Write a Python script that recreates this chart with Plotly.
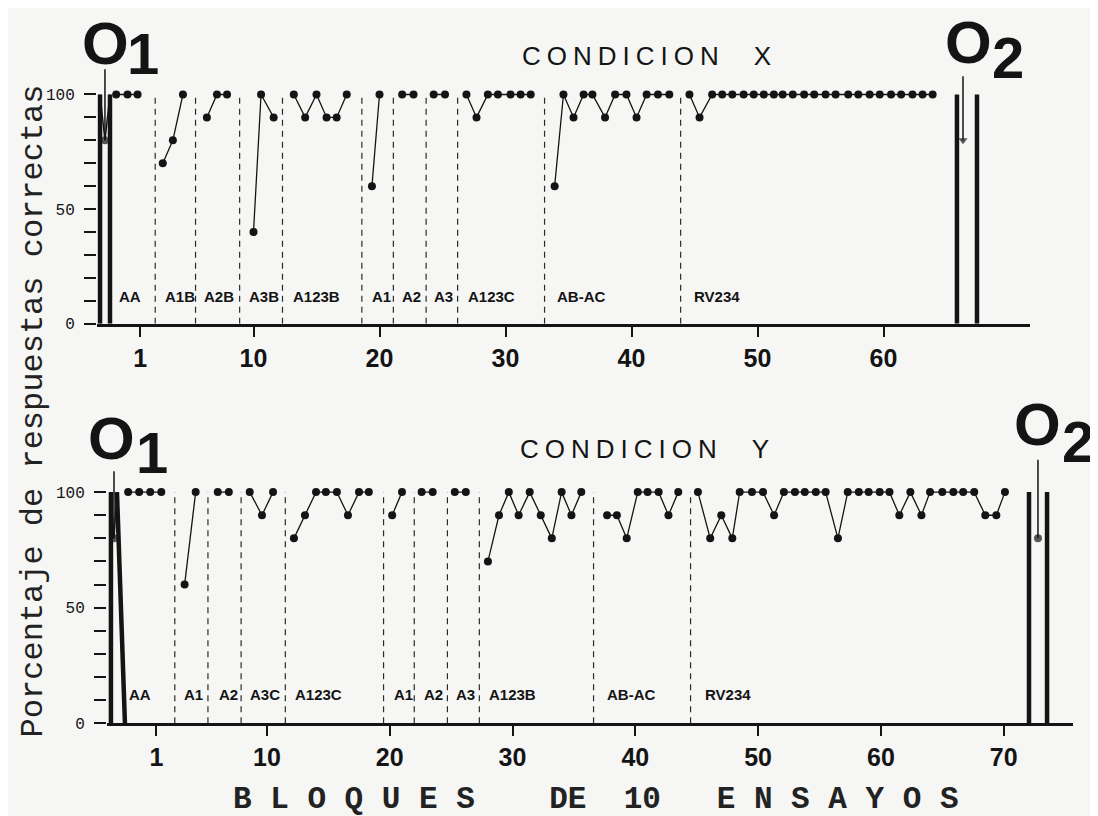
import plotly.graph_objects as go

# ---------------- DATA ----------------
# Condición X (upper panel)
phases_top = ["AA", "A1B", "A2B", "A3B", "A123B", "A1", "A2", "A3", "A123C", "AB-AC", "RV234"]
blocks_top = [
    [-0.9, 0.0, 0.8],
    [2.8, 3.6, 4.4],
    [6.3, 7.1, 7.9],
    [10.0, 10.6, 11.6],
    [13.2, 14.1, 15.0, 15.8, 16.6, 17.4],
    [19.4, 20.0],
    [21.8, 22.7],
    [24.3, 25.2],
    [26.9, 27.7, 28.6, 29.4, 30.4, 31.2, 32.0],
    [33.9, 34.6, 35.4, 36.2, 36.9, 37.9, 38.7, 39.6, 40.4, 41.2, 42.1, 43.0],
    [44.6, 45.4, 46.4, 47.2, 48.0, 48.9, 49.7, 50.5, 51.3, 52.0, 52.8, 53.7,
     54.5, 55.4, 56.2, 57.2, 58.0, 58.9, 59.7, 60.6, 61.4, 62.3, 63.1, 63.9],
]
pct_top = [
    [100, 100, 100],
    [70, 80, 100],
    [90, 100, 100],
    [40, 100, 90],
    [100, 90, 100, 90, 90, 100],
    [60, 100],
    [100, 100],
    [100, 100],
    [100, 90, 100, 100, 100, 100, 100],
    [60, 100, 90, 100, 100, 90, 100, 100, 90, 100, 100, 100],
    [100, 90, 100, 100, 100, 100, 100, 100, 100, 100, 100, 100,
     100, 100, 100, 100, 100, 100, 100, 100, 100, 100, 100, 100],
]
bounds_top = [2.2, 5.4, 8.9, 12.3, 18.6, 21.1, 23.7, 26.2, 33.1, 43.9]
label_x_top = [-0.8, 2.8, 5.9, 9.5, 13.0, 19.25, 21.6, 24.2, 26.9, 33.9, 44.8]
ticks_top = [1, 10, 20, 30, 40, 50, 60]

# Condición Y (lower panel)
phases_bot = ["AA", "A1", "A2", "A3C", "A123C", "A1", "A2", "A3", "A123B", "AB-AC", "RV234"]
blocks_bot = [
    [-1.3, -0.4, 0.5, 1.4],
    [3.3, 4.2],
    [6.0, 6.9],
    [8.6, 9.6, 10.5],
    [12.2, 13.1, 14.0, 14.8, 15.7, 16.6, 17.5, 18.3],
    [20.2, 21.0],
    [22.6, 23.5],
    [25.3, 26.2],
    [28.0, 28.9, 29.7, 30.5, 31.4, 32.3, 33.2, 34.0, 34.8, 35.6],
    [37.7, 38.5, 39.3, 40.2, 41.0, 41.9, 42.7, 43.5],
    [45.1, 46.1, 47.0, 47.9, 48.5, 49.5, 50.4, 51.3, 52.1, 53.0, 53.8, 54.7, 55.5, 56.5, 57.3,
     58.2, 59.0, 59.9, 60.7, 61.5, 62.4, 63.3, 64.0, 65.0, 65.9, 66.7, 67.6, 68.5, 69.4, 70.1],
]
pct_bot = [
    [100, 100, 100, 100],
    [60, 100],
    [100, 100],
    [100, 90, 100],
    [80, 90, 100, 100, 100, 90, 100, 100],
    [90, 100],
    [100, 100],
    [100, 100],
    [70, 90, 100, 90, 100, 90, 80, 100, 90, 100],
    [90, 90, 80, 100, 100, 100, 90, 100],
    [100, 80, 90, 80, 100, 100, 100, 90, 100, 100, 100, 100, 100, 80, 100,
     100, 100, 100, 100, 90, 100, 90, 100, 100, 100, 100, 100, 90, 90, 100],
]
bounds_bot = [2.5, 5.2, 7.9, 11.5, 19.5, 22.0, 24.7, 27.3, 36.6, 44.5]
label_x_bot = [-1.4, 3.1, 5.9, 8.5, 12.1, 20.2, 22.6, 25.2, 27.9, 37.5, 45.5]
ticks_bot = [1, 10, 20, 30, 40, 50, 60, 70]

# Probe markers O1 / O2: bars (bottom x, top x), probe point x, probe %, pointer top
probe_top_left_bar = [(-2.18, -2.18), (65.83, 65.83)]
probe_top_right_bar = [(-1.39, -1.39), (67.42, 67.42)]
probe_top_point_x = [-1.79, 66.31]
probe_top_pct = [80, 80]
probe_top_pointer = [111, 108]

probe_bot_left_bar = [(-2.70, -2.70), (72.06, 72.06)]
probe_bot_right_bar = [(-1.56, -2.21), (73.53, 73.53)]
probe_bot_point_x = [-2.45, 72.79]
probe_bot_pct = [80, 80]
probe_bot_pointer = [109, 114]

yticks = [0, 10, 20, 30, 40, 50, 60, 70, 80, 90, 100]
ytick_text = ["0", "", "", "", "", "50", "", "", "", "", "100"]

# ---------------- FIGURE ----------------
W, H = 1098, 816
OFFX = 8      # page body margin (horizontal)
OFFY, SY = 7.2, 0.990  # measured vertical placement on the page
INK = "#141414"
BG = "#f6f6f4"


def fx(px):
    return (px - OFFX) / W


def fy(py):
    return 1 - ((py - OFFY) / SY) / H


fig = go.Figure()


def add_panel(xa, ya, blocks, pcts, bounds, names, label_x, label_y,
              lbar, rbar, px_, ppct, ptop, arrow_second):
    for xs, ys in zip(blocks, pcts):
        fig.add_trace(go.Scatter(
            x=xs, y=ys, xaxis=xa, yaxis=ya, mode="lines+markers",
            line=dict(color=INK, width=1.3), marker=dict(color=INK, size=8),
            showlegend=False, hoverinfo="skip", cliponaxis=False))
    for b in bounds:
        fig.add_shape(type="line", xref=xa, yref=ya, x0=b, x1=b, y0=0, y1=100,
                      line=dict(color="#2a2a2a", width=1.2, dash="6px,5px"))
    for n, lx in zip(names, label_x):
        fig.add_annotation(xref=xa, yref=ya, x=lx, y=label_y, text=n,
                           showarrow=False, xanchor="left", yanchor="middle",
                           font=dict(family="Liberation Sans", size=15, color=INK,
                                     weight="bold"))
    # probe markers
    for i in range(2):
        lb, rb = lbar[i], rbar[i]
        fig.add_trace(go.Scatter(
            x=[lb[0], lb[1], None, rb[0], rb[1]], y=[0, 100, None, 0, 100],
            xaxis=xa, yaxis=ya, mode="lines", line=dict(color=INK, width=4.5),
            showlegend=False, hoverinfo="skip"))
        if i == 0:
            fig.add_trace(go.Scatter(
                x=[lb[1], px_[i], rb[1]], y=[100, ppct[i], 100],
                xaxis=xa, yaxis=ya, mode="lines", line=dict(color=INK, width=1.5),
                showlegend=False, hoverinfo="skip"))
        sym = "triangle-down" if (i == 1 and arrow_second) else "circle"
        fig.add_trace(go.Scatter(
            x=[px_[i], px_[i]], y=[ptop[i], ppct[i]],
            xaxis=xa, yaxis=ya, mode="lines+markers",
            line=dict(color=INK, width=1.5),
            marker=dict(color=INK, size=[0, 8], symbol=sym,
                        line=dict(width=0)),
            showlegend=False, hoverinfo="skip", cliponaxis=False))


add_panel("x", "y", blocks_top, pct_top, bounds_top, phases_top, label_x_top, 11.7,
          probe_top_left_bar, probe_top_right_bar, probe_top_point_x, probe_top_pct,
          probe_top_pointer, True)
add_panel("x2", "y2", blocks_bot, pct_bot, bounds_bot, phases_bot, label_x_bot, 12.5,
          probe_bot_left_bar, probe_bot_right_bar, probe_bot_point_x, probe_bot_pct,
          probe_bot_pointer, False)

xaxis_common = dict(showgrid=False, zeroline=False, showline=True, linewidth=3,
                    linecolor=INK, ticks="outside", ticklen=10, tickwidth=2,
                    tickcolor=INK,
                    tickfont=dict(family="Liberation Sans", size=25, color=INK, weight="bold"))
yaxis_common = dict(showgrid=False, zeroline=False, showline=False, ticks="outside",
                    ticklen=12, tickwidth=2, tickcolor=INK, range=[0, 122],
                    tickvals=yticks, ticktext=ytick_text, ticklabelstandoff=6,
                    tickfont=dict(family="Liberation Mono", size=16, color=INK))

fig.update_layout(
    width=W, height=H, margin=dict(l=0, r=0, t=0, b=0),
    paper_bgcolor=BG, plot_bgcolor=BG, showlegend=False,
    xaxis=dict(domain=[fx(97), fx(1030)], range=[-2.421, 71.627], anchor="y",
               tickvals=ticks_top, **xaxis_common),
    yaxis=dict(domain=[fy(324), fy(43.4)], anchor="x", **yaxis_common),
    xaxis2=dict(domain=[fx(107), fx(1073)], range=[-3.021, 75.643], anchor="y2",
                tickvals=ticks_bot, **xaxis_common),
    yaxis2=dict(domain=[fy(725), fy(442)], anchor="x2", **yaxis_common),
)

# panel titles
for txt, cx, cy in [("X", 646, 55), ("Y", 644, 450)]:
    fig.add_annotation(
        xref="paper", yref="paper", x=fx(cx), y=fy(cy), showarrow=False,
        xanchor="center", yanchor="middle",
        text='<span style="letter-spacing:6px">CONDICION</span>\u00a0\u00a0\u00a0\u00a0' + txt,
        font=dict(family="Liberation Sans", size=26, color=INK))

# O1 / O2 labels (upper O1 letter anchored to the top edge so it stays inside)
o_big = [("O", 105, None), ("O", 968, 41.5), ("O", 111.5, 439), ("O", 1037, 425)]
o_sub = [("1", 143, 53), ("2", 1008, 57), ("1", 151.5, 453), ("2", 1077.5, 442.5)]
for big, ox, oy in o_big:
    if oy is None:
        fig.add_annotation(xref="paper", yref="paper", x=fx(ox), y=1.0, text=big,
                           showarrow=False, xanchor="center", yanchor="top",
                           font=dict(family="Liberation Sans", size=60, color=INK,
                                     weight="bold"))
    else:
        fig.add_annotation(xref="paper", yref="paper", x=fx(ox), y=fy(oy), text=big,
                           showarrow=False, xanchor="center", yanchor="middle",
                           font=dict(family="Liberation Sans", size=60, color=INK,
                                     weight="bold"))
for sub, sx, sy in o_sub:
    fig.add_annotation(xref="paper", yref="paper", x=fx(sx), y=fy(sy), text=sub,
                       showarrow=False, xanchor="center", yanchor="middle",
                       font=dict(family="Liberation Sans", size=58, color=INK, weight="bold"))

# axis titles
fig.add_annotation(xref="paper", yref="paper", x=fx(33), y=fy(412), textangle=-90,
                   text="Porcentaje de respuestas correctas", showarrow=False,
                   xanchor="center", yanchor="middle",
                   font=dict(family="Liberation Mono", size=32, color="#222"))
nb = "\u00a0"
xtitle = nb.join("BLOQUES") + nb * 4 + "DE" + nb * 2 + "10" + nb * 3 + nb.join("ENSAYOS")
fig.add_annotation(xref="paper", yref="paper", x=fx(596), y=fy(801), text=xtitle,
                   showarrow=False, xanchor="center", yanchor="middle",
                   font=dict(family="Liberation Mono", size=31, color="#222", weight="bold"))

fig.write_html("out.html")
